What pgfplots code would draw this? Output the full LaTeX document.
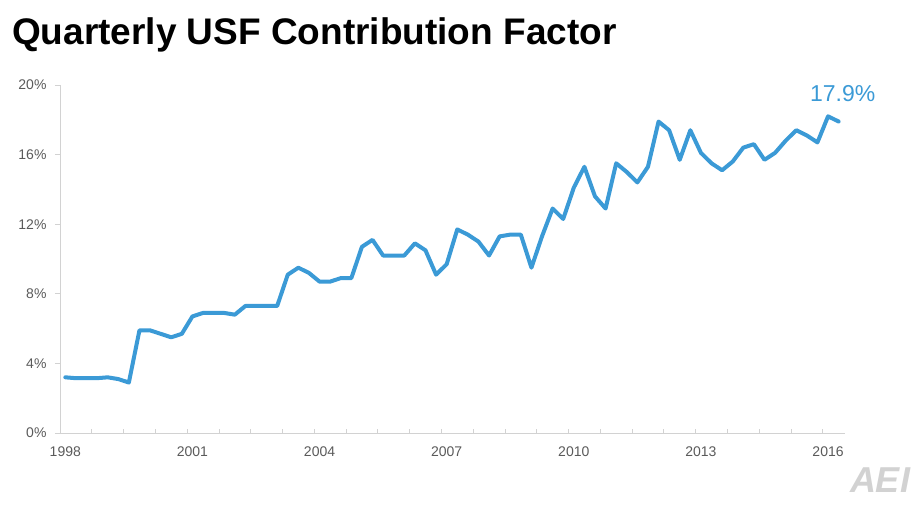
\documentclass[border=0pt]{standalone}
\usepackage{pgfplots}
\pgfplotsset{compat=1.18}
\usepackage{pgfplotstable}
\usepackage{fontspec}
\setmainfont{Liberation Sans}
\definecolor{usfblue}{HTML}{3B9AD6}
\definecolor{axgray}{HTML}{D2D2D2}
\definecolor{lblgray}{HTML}{5A5A5A}
\pgfplotstableread{
i v
0 3.2
1 3.15
2 3.15
3 3.15
4 3.2
5 3.1
6 2.9
7 5.9
8 5.9
9 5.7
10 5.5
11 5.7
12 6.7
13 6.9
14 6.9
15 6.9
16 6.8
17 7.3
18 7.3
19 7.3
20 7.3
21 9.1
22 9.5
23 9.2
24 8.7
25 8.7
26 8.9
27 8.9
28 10.7
29 11.1
30 10.2
31 10.2
32 10.2
33 10.9
34 10.5
35 9.1
36 9.7
37 11.7
38 11.4
39 11.0
40 10.2
41 11.3
42 11.4
43 11.4
44 9.5
45 11.3
46 12.9
47 12.3
48 14.1
49 15.3
50 13.6
51 12.9
52 15.5
53 15.0
54 14.4
55 15.3
56 17.9
57 17.4
58 15.7
59 17.4
60 16.1
61 15.5
62 15.1
63 15.6
64 16.4
65 16.6
66 15.7
67 16.1
68 16.8
69 17.4
70 17.1
71 16.7
72 18.2
73 17.9
}\usf
\begin{document}
\begin{tikzpicture}
\useasboundingbox (0,0) rectangle (914pt,504pt);
\node[anchor=base west, inner sep=0pt, font=\fontsize{37}{40}\selectfont\bfseries] at (12pt,459pt) {Quarterly USF Contribution Factor};
\begin{axis}[
  scale only axis,
  width=785pt, height=348pt,
  at={(60pt,71pt)}, anchor=south west,
  xmin=-0.5, xmax=73.6,
  ymin=0, ymax=20,
  axis x line*=bottom, axis y line*=left,
  axis line style={axgray, line width=0.8pt, -},
  xtick={0,12,24,36,48,60,72},
  xticklabels={1998,2001,2004,2007,2010,2013,2016},
  minor xtick={-0.5,2.5,...,71.5},
  ytick={0,4,8,12,16,20},
  yticklabel={\pgfmathprintnumber{\tick}\%},
  /pgf/number format/assume math mode=true,
  tick label style={font=\fontsize{14}{16}\selectfont, text=lblgray},
  major x tick style={draw=none},
  minor x tick style={axgray, line width=0.8pt},
  minor tick length=4pt,
  xtick align=inside,
  ytick align=outside,
  major tick length=5pt,
  y tick style={axgray, line width=0.8pt},
  xticklabel style={yshift=-10pt},
  yticklabel style={xshift=-5pt},
  clip=false,
]
\addplot[usfblue, line width=4pt, line join=round, line cap=round] table[x=i, y=v] {\usf};
\node[text=usfblue, font=\fontsize{23}{25}\selectfont, anchor=center] at (axis cs:73,17.9) [xshift=4pt, yshift=28pt] {17.9\%};
\end{axis}
\node[text=gray!35, font=\fontsize{36}{38}\selectfont\bfseries\itshape, anchor=center] at (880pt,24pt) {AEI};
\end{tikzpicture}
\end{document}
